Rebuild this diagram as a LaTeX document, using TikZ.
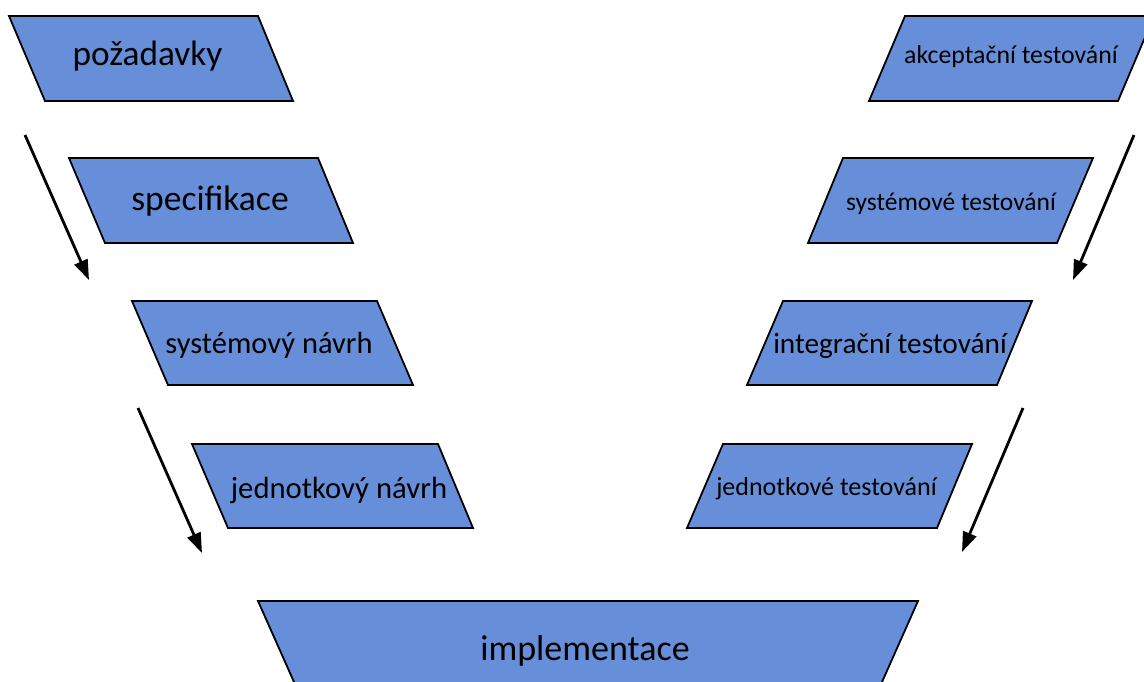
\documentclass[tikz,border=0pt]{standalone}
\usepackage{fontspec}
\setmainfont{Carlito}
\usetikzlibrary{arrows.meta}
\definecolor{boxblue}{RGB}{103,142,216}
\tikzset{
  stagebox/.style={fill=boxblue, draw=black, line width=1.8pt, line join=miter},
  flow/.style={line width=2.8pt, -{Triangle[length=20pt,width=14pt]}},
  lbl/.style={anchor=base, inner sep=0pt, text=black}
}
\newcommand{\fs}[1]{\fontsize{#1}{#1}\selectfont}
\begin{document}
\begin{tikzpicture}[x=1pt,y=-1pt]
  \useasboundingbox (0,0) rectangle (1144,681);
  \clip (0,0) rectangle (1144,681);
  \fill[white] (0,0) rectangle (1144,681);

  % left branch: design stages
  \draw[stagebox] (9,16) -- (258,16) -- (293,101) -- (45,101) -- cycle;
  \draw[stagebox] (69,158) -- (318,158) -- (353,243) -- (105,243) -- cycle;
  \draw[stagebox] (132,301) -- (377,301) -- (413,385) -- (168,385) -- cycle;
  \draw[stagebox] (192,444) -- (438,444) -- (473,528) -- (228,528) -- cycle;

  % right branch: testing stages
  \draw[stagebox] (905,16) -- (1154,16) -- (1118,101) -- (869,101) -- cycle;
  \draw[stagebox] (843,158) -- (1093,158) -- (1057,243) -- (808,243) -- cycle;
  \draw[stagebox] (783,301) -- (1032,301) -- (997,385) -- (747,385) -- cycle;
  \draw[stagebox] (723,444) -- (972,444) -- (937,528) -- (687,528) -- cycle;

  % bottom: implementation
  \draw[stagebox] (258,601) -- (918,601) -- (878,691) -- (298,691) -- cycle;

  % labels
  \node[lbl] (pozadavky) at (147.5,65) {\fs{35.3}požadavky};
  \node[lbl] (spec) at (210,210) {\fs{35.5}specifikace};
  \node[lbl] (sysnavrh) at (269,353) {\fs{30.5}systémový návrh};
  \node[lbl] (jednavrh) at (339,498) {\fs{30.7}jednotkový návrh};
  \node[lbl] (akcept) at (1011,63) {\fs{25.8}akceptační testování};
  \node[lbl] (systest) at (951,210) {\fs{25.5}systémové testování};
  \node[lbl] (integr) at (890,353) {\fs{29.3}integrační testování};
  \node[lbl] (jedtest) at (826.5,495) {\fs{26}jednotkové testování};
  \node[lbl] (impl) at (585,660) {\fs{36}implementace};

  % arrow end points
  \coordinate (la1s) at (25,135);   \coordinate (la1e) at (89,280);
  \coordinate (la2s) at (138,408);  \coordinate (la2e) at (202,553);
  \coordinate (ra1s) at (1134,135); \coordinate (ra1e) at (1073,280);
  \coordinate (ra2s) at (1023,408); \coordinate (ra2e) at (962,552);

  \draw[flow] (la1s) -- (la1e);
  \draw[flow] (la2s) -- (la2e);
  \draw[flow] (ra1s) -- (ra1e);
  \draw[flow] (ra2s) -- (ra2e);
\end{tikzpicture}
\end{document}
